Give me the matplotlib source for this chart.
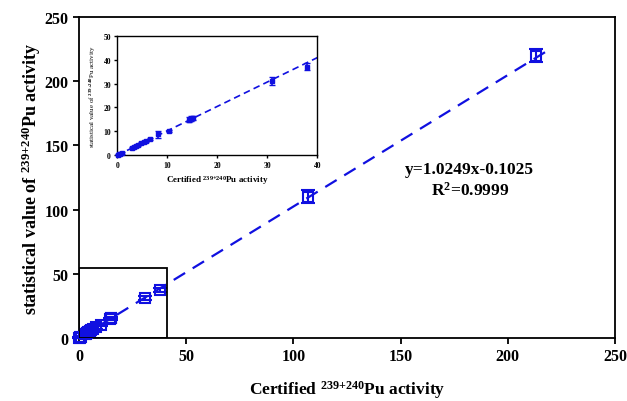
import matplotlib
matplotlib.use("Agg")
import matplotlib.pyplot as plt
from matplotlib.patches import Rectangle

plt.rcParams['font.family'] = ['Liberation Serif', 'DejaVu Serif']
plt.rcParams['font.weight'] = 'bold'
plt.rcParams['mathtext.fontset'] = 'custom'
plt.rcParams['mathtext.rm'] = 'Liberation Serif:bold'
plt.rcParams['mathtext.it'] = 'Liberation Serif:bold'
plt.rcParams['mathtext.bf'] = 'Liberation Serif:bold'

certified = [0.1, 0.3, 0.6, 1.0, 2.9, 3.3, 3.7, 4.2, 4.8, 5.3, 5.8, 6.5, 8.1, 10.3,
             14.3, 14.8, 15.1, 31.0, 38.0, 107.0, 213.0]
statistical = [0.1, 0.3, 0.6, 0.9, 3.0, 3.4, 3.8, 4.3, 4.9, 5.5, 6.0, 6.7, 8.7, 10.1,
               14.8, 15.3, 15.6, 31.0, 37.0, 110.0, 220.0]
errors = [0.3, 0.3, 0.3, 0.3, 0.4, 0.4, 0.4, 0.4, 0.4, 0.5, 0.5, 0.5, 1.4, 0.5,
          1.0, 1.0, 0.8, 1.6, 1.5, 5.0, 5.0]
slope, intercept = 1.0249, -0.1025
fit_x_main = [0, 220]
fit_x_inset = [0, 40]

blue = '#1010e0'

fig = plt.figure(figsize=(6.27, 4.02), dpi=100)
ax = fig.add_axes([0.126, 0.157, 0.855, 0.798])

ax.errorbar(certified, statistical, yerr=errors, fmt='s', mfc='none', mec=blue,
            ecolor=blue, ms=6.5, mew=1.5, elinewidth=1.5, capsize=5, capthick=1.5,
            clip_on=False, zorder=3)
ax.plot(fit_x_main, [slope * x + intercept for x in fit_x_main], '--', color=blue,
        lw=1.6, dashes=(6, 4), zorder=2)
ax.add_patch(Rectangle((0, 0), 41, 54.5, fill=False, ec='black', lw=1.3, zorder=4))

ax.set_xlim(0, 250)
ax.set_ylim(0, 250)
ax.set_xticks([0, 50, 100, 150, 200, 250])
ax.set_yticks([0, 50, 100, 150, 200, 250])
for s in ax.spines.values():
    s.set_linewidth(1.3)
ax.tick_params(direction='out', length=4, width=1.3, labelsize=11.5)
for lab in ax.get_xticklabels() + ax.get_yticklabels():
    lab.set_fontweight('bold')
ax.set_xlabel(r'Certified $^{239{+}240}$Pu activity', fontsize=12.5, fontweight='bold', labelpad=10)
ax.set_ylabel(r'statistical value of $^{239{+}240}$Pu activity', fontsize=13, fontweight='bold')
ax.yaxis.set_label_coords(-0.068, 0.5)

ax.text(469, 232, 'y=1.0249x-0.1025', transform=None, fontsize=12.5, fontweight='bold',
        ha='center', va='center')
ax.text(470, 211, r'R$^2$=0.9999', transform=None, fontsize=12.5, fontweight='bold',
        ha='center', va='center')

ins = fig.add_axes([0.187, 0.612, 0.319, 0.296])
ins.errorbar(certified[:19], statistical[:19], yerr=errors[:19], fmt='s', mfc=blue, mec=blue,
             ecolor=blue, ms=2.5, mew=1, elinewidth=1.2, capsize=2, capthick=1.2,
             clip_on=False, zorder=3)
ins.plot(fit_x_inset, [slope * x + intercept for x in fit_x_inset], '--', color=blue,
         lw=1.2, dashes=(4, 2.5), zorder=2)
ins.set_xlim(0, 40)
ins.set_ylim(0, 50)
ins.set_xticks([0, 10, 20, 30, 40])
ins.set_yticks([0, 10, 20, 30, 40, 50])
for s in ins.spines.values():
    s.set_linewidth(1.0)
ins.tick_params(direction='out', length=2.5, width=1.0, labelsize=5.5, pad=2)
for lab in ins.get_xticklabels() + ins.get_yticklabels():
    lab.set_fontweight('bold')
ins.set_xlabel(r'Certified $^{239{+}240}$Pu activity', fontsize=6.5, fontweight='bold', labelpad=3)
ins.set_ylabel(r'statistical value of $^{239{+}240}$Pu activity', fontsize=5, fontweight='normal', labelpad=4)

fig.savefig('out.png', dpi=100)
